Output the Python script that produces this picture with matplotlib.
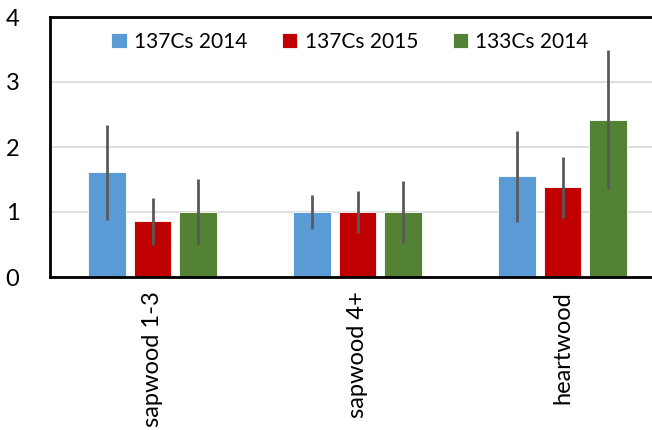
# Cs concentration ratios by wood section, bars with error bars

import numpy as np
import matplotlib.pyplot as plt

plt.rcParams['font.family'] = ['Lato', 'DejaVu Sans']

categories = ['sapwood 1-3', 'sapwood 4+', 'heartwood']
series = ['137Cs 2014', '137Cs 2015', '133Cs 2014']
colors = ['#5b9bd5', '#c00000', '#548235']

cs137_2014 = [1.61, 1.00, 1.55]
cs137_2015 = [0.86, 1.00, 1.38]
cs133_2014 = [1.00, 1.00, 2.42]

err_137_2014 = [0.73, 0.26, 0.70]
err_137_2015 = [0.36, 0.32, 0.47]
err_133_2014 = [0.51, 0.47, 1.07]

values = [cs137_2014, cs137_2015, cs133_2014]
errors = [err_137_2014, err_137_2015, err_133_2014]

fig = plt.figure(figsize=(6.52, 4.30), dpi=100)
# plot area runs past the right edge, as in the cropped original
ax = fig.add_axes([50 / 652, 1 - 277 / 430, 615 / 652, 260 / 430])

x = np.arange(len(categories))
step = 0.222
width = 0.185
for i, (vals, errs) in enumerate(zip(values, errors)):
    ax.bar(x + (i - 1) * step, vals, width, color=colors[i], label=series[i],
           edgecolor='white', linewidth=0.6, zorder=2)
    ax.errorbar(x + (i - 1) * step, vals, yerr=errs, fmt='none',
                ecolor='#595959', elinewidth=2, capsize=0, zorder=3)

ax.set_xlim(-0.5, 2.5)
ax.set_ylim(0, 4)
ax.set_yticks([0, 1, 2, 3, 4])
ax.yaxis.grid(True, color='#d9d9d9', linewidth=1.2, zorder=0)
ax.set_axisbelow(True)
ax.set_xticks(x)
ax.set_xticklabels(categories, rotation=90, fontsize=17)
ax.tick_params(axis='both', length=0)
ax.tick_params(axis='x', pad=10, labelsize=17)
ax.tick_params(axis='y', pad=22, labelsize=17)
for s in ['left', 'top', 'bottom', 'right']:
    ax.spines[s].set_linewidth(2)
    ax.spines[s].set_color('black')

fig.legend(loc='center', bbox_to_anchor=(350 / 652, 1 - 42 / 430), ncol=3,
           frameon=False, fontsize=15, handlelength=0.75, handleheight=0.75,
           handletextpad=0.35, columnspacing=1.65)

fig.savefig('out.png', dpi=100)
